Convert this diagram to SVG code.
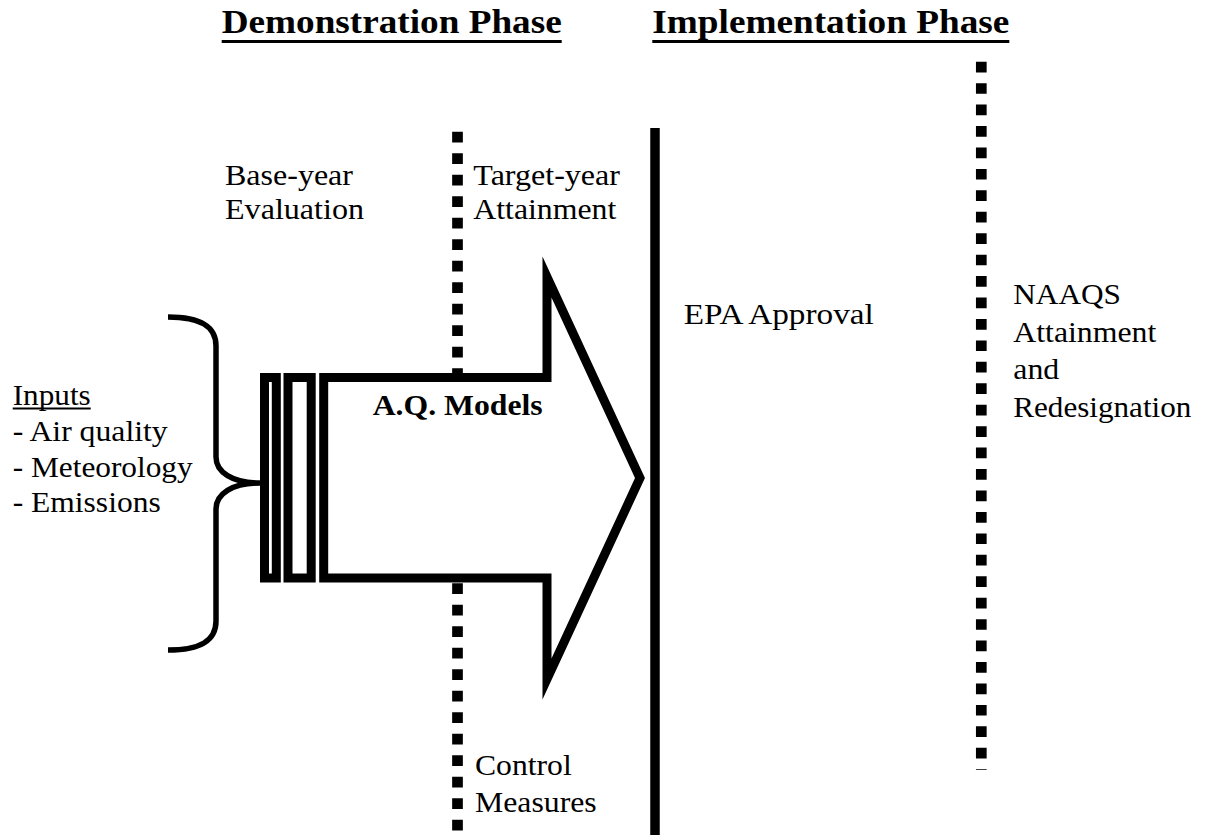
<svg xmlns="http://www.w3.org/2000/svg" width="1212" height="840" viewBox="0 0 1212 840">
  <style>
    .lbl { font-size: 30px; }
    .title { font-size: 34px; font-weight: bold; }
    .bold { font-size: 30px; font-weight: bold; }
    .dots { stroke: #000; stroke-width: 10.7; fill: none; }
    .heavy { stroke: #000; stroke-width: 9; fill: #fff; stroke-linejoin: miter; stroke-miterlimit: 10; }
  </style>
  <rect width="1212" height="840" fill="#fff"/>

  <g font-family="'Liberation Serif', 'Times New Roman', Times, serif" fill="#000">
  <!-- phase headings -->
  <g id="heading-demo">
    <text class="title" x="221.7" y="33.3" textLength="340" lengthAdjust="spacingAndGlyphs">Demonstration Phase</text>
    <rect x="221.7" y="40" width="340" height="3"/>
  </g>
  <g id="heading-impl">
    <text class="title" x="652.3" y="33.3" textLength="357" lengthAdjust="spacingAndGlyphs">Implementation Phase</text>
    <rect x="652.3" y="40" width="357" height="3"/>
  </g>

  <!-- phase dividers -->
  <g id="connectors">
    <line class="dots" x1="457.5" y1="131.7" x2="457.5" y2="840" stroke-dasharray="10.7 10.8"/>
    <line class="dots" x1="981.3" y1="61.7" x2="981.3" y2="770" stroke-dasharray="10.7 10.74"/>
    <line x1="655" y1="128" x2="655" y2="835" stroke="#000" stroke-width="9.5"/>
  </g>

  <!-- inputs brace and list -->
  <g id="inputs">
    <text class="lbl" x="12.7" y="405" textLength="78" lengthAdjust="spacingAndGlyphs">Inputs</text>
    <rect x="12.7" y="407.5" width="78" height="2"/>
    <text class="lbl" x="12.7" y="441" textLength="155" lengthAdjust="spacingAndGlyphs">- Air quality</text>
    <text class="lbl" x="12.7" y="477" textLength="180" lengthAdjust="spacingAndGlyphs">- Meteorology</text>
    <text class="lbl" x="12.7" y="512" textLength="148" lengthAdjust="spacingAndGlyphs">- Emissions</text>
    <path d="M168,317 C200,317 216,326 216,346 L216,457 C216,472 232,483 260,483 C232,483 216,494 216,509 L216,621 C216,641 200,650 168,650" fill="none" stroke="#000" stroke-width="5.5"/>
  </g>

  <!-- model input plates -->
  <g id="plates">
    <rect class="heavy" x="264.5" y="377.5" width="11.8" height="200.5"/>
    <rect class="heavy" x="288" y="377.5" width="23.2" height="200.5"/>
  </g>

  <!-- model arrow -->
  <g id="aq-models">
    <polygon class="heavy" points="323.7,377.5 547,377.5 547,277 640,478 547,679 547,578 323.7,578"/>
    <text class="bold" x="372.7" y="415" textLength="170" lengthAdjust="spacingAndGlyphs">A.Q. Models</text>
  </g>

  <g id="base-year">
    <text class="lbl" x="225" y="185" textLength="128" lengthAdjust="spacingAndGlyphs">Base-year</text>
    <text class="lbl" x="225" y="218.5" textLength="139" lengthAdjust="spacingAndGlyphs">Evaluation</text>
  </g>
  <g id="target-year">
    <text class="lbl" x="473.3" y="185" textLength="146.7" lengthAdjust="spacingAndGlyphs">Target-year</text>
    <text class="lbl" x="473.3" y="218.5" textLength="143" lengthAdjust="spacingAndGlyphs">Attainment</text>
  </g>
  <g id="control">
    <text class="lbl" x="475" y="775" textLength="96.7" lengthAdjust="spacingAndGlyphs">Control</text>
    <text class="lbl" x="475" y="811.7" textLength="121.7" lengthAdjust="spacingAndGlyphs">Measures</text>
  </g>
  <g id="epa-approval">
    <text class="lbl" x="683.8" y="324" textLength="190" lengthAdjust="spacingAndGlyphs">EPA Approval</text>
  </g>
  <g id="naaqs">
    <text class="lbl" x="1013.3" y="304" textLength="107.7" lengthAdjust="spacingAndGlyphs">NAAQS</text>
    <text class="lbl" x="1013.3" y="341.8" textLength="143" lengthAdjust="spacingAndGlyphs">Attainment</text>
    <text class="lbl" x="1013.3" y="378.8" textLength="46" lengthAdjust="spacingAndGlyphs">and</text>
    <text class="lbl" x="1013.3" y="417" textLength="178" lengthAdjust="spacingAndGlyphs">Redesignation</text>
  </g>
  </g>
</svg>
